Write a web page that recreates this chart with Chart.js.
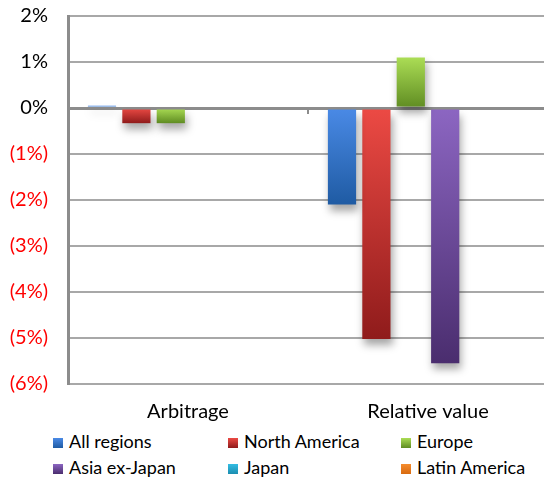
<!DOCTYPE html>
<html>
<head>
<meta charset="utf-8">
<script src="https://cdn.jsdelivr.net/npm/chart.js@4/dist/chart.umd.min.js"></script>
<style>
  html, body { margin: 0; padding: 0; background: #fff; overflow: hidden; }
  #wrap { position: relative; width: 548px; height: 480px; }
  #wrap canvas { position: absolute; left: 0; top: 0; }
  .legend-item { position: absolute; font-family: Lato, "Open Sans", sans-serif; font-size: 18px; color: #000; line-height: 20px; white-space: nowrap; }
  .legend-item span { display: inline-block; width: 10px; height: 10px; margin-right: 6px; vertical-align: 0px; }
</style>
</head>
<body>
<div id="wrap">
  <canvas id="grafico" width="548" height="430"></canvas>
  <div id="legenda"></div>
</div>
<script>
// Categorias e séries (valores em %)
const categorias = ['Arbitrage', 'Relative value'];
const nomesSeries = ['All regions', 'North America', 'Europe', 'Asia ex-Japan', 'Japan', 'Latin America'];
const allRegions = [0.05, -2.1];
const northAmerica = [-0.33, -5.02];
const europe = [-0.33, 1.1];
const asiaExJapan = [0, -5.55];
const japan = [0, 0];
const latinAmerica = [0, 0];
const ticksY = [-6, -5, -4, -3, -2, -1, 0, 1, 2];

// Cores: tom claro (topo) e escuro (base) de cada série
const coresClaras = ['#4a8ae6', '#ec4a44', '#abdd55', '#8c66c2', '#33bde3', '#f58c2e'];
const coresEscuras = ['#1f5ba3', '#8f1b1b', '#5f8c22', '#4a2d6e', '#1b8db0', '#d86a10'];

const valores = [allRegions, northAmerica, europe, asiaExJapan, japan, latinAmerica];

// Gradiente vertical de cada barra, do topo até a base
function gradienteBarra(i) {
    return function(context) {
        const chart = context.chart;
        if (!chart.chartArea || context.raw === undefined) return coresClaras[i];
        const y = chart.scales.y;
        const p0 = y.getPixelForValue(0);
        const p1 = y.getPixelForValue(context.raw);
        const topo = Math.min(p0, p1), base = Math.max(p0, p1);
        if (base - topo < 1) return coresClaras[i];
        const g = chart.ctx.createLinearGradient(0, topo, 0, base);
        g.addColorStop(0, coresClaras[i]);
        g.addColorStop(1, coresEscuras[i]);
        return g;
    };
}

// Sombra das barras
const sombraPlugin = {
    id: 'sombra',
    beforeDatasetsDraw(chart) {
        const ctx = chart.ctx;
        ctx.save();
        ctx.shadowColor = 'rgba(0, 0, 0, 0.35)';
        ctx.shadowBlur = 8;
        ctx.shadowOffsetX = 2;
        ctx.shadowOffsetY = 6;
    },
    afterDatasetsDraw(chart) {
        chart.ctx.restore();
    }
};

// Marca de divisão entre categorias sobre a linha do zero
const marcaPlugin = {
    id: 'marca',
    afterDraw(chart) {
        const ctx = chart.ctx;
        const x = chart.scales.x;
        const y0 = chart.scales.y.getPixelForValue(0);
        ctx.save();
        ctx.strokeStyle = '#8c8c8c';
        ctx.lineWidth = 2;
        for (let i = 1; i < categorias.length; i++) {
            const px = (x.getPixelForValue(i - 1) + x.getPixelForValue(i)) / 2;
            ctx.beginPath();
            ctx.moveTo(px, y0);
            ctx.lineTo(px, y0 + 6);
            ctx.stroke();
        }
        ctx.restore();
    }
};

const datasets = nomesSeries.map((nome, i) => ({
    label: nome,
    data: valores[i],
    backgroundColor: gradienteBarra(i),
    borderWidth: 0,
    categoryPercentage: 0.86,
    barPercentage: 0.82
}));

const ctx = document.getElementById('grafico').getContext('2d');
const grafico = new Chart(ctx, {
    type: 'bar',
    data: { labels: categorias, datasets: datasets },
    plugins: [sombraPlugin, marcaPlugin],
    options: {
        responsive: false,
        animation: false,
        layout: { padding: { top: 16, right: 0, left: 0, bottom: 0 } },
        plugins: {
            legend: { display: false },
            tooltip: { enabled: false }
        },
        scales: {
            x: {
                grid: { display: false, drawTicks: false },
                border: { display: false },
                ticks: {
                    color: '#000',
                    padding: 16,
                    font: { family: 'Lato, "Open Sans", sans-serif', size: 20 }
                },
                afterFit(scale) { scale.height = 46; }
            },
            y: {
                min: -6,
                max: 2,
                afterBuildTicks(scale) { scale.ticks = ticksY.map(v => ({ value: v })); },
                grid: {
                    drawTicks: false,
                    color: c => (c.tick && c.tick.value === 0) ? '#8c8c8c' : '#a8a8a8',
                    lineWidth: c => (c.tick && c.tick.value === 0) ? 3 : 2
                },
                border: { display: true, color: '#8c8c8c', width: 3 },
                ticks: {
                    padding: 20,
                    color: c => c.tick.value < 0 ? '#ff0000' : '#000000',
                    font: { family: 'Lato, "Open Sans", sans-serif', size: 20 },
                    callback: v => v < 0 ? '(' + (-v) + '%)' : v + '%'
                },
                afterFit(scale) {
                    scale.width = 68;
                    scale.paddingTop = 0;
                    scale.paddingBottom = 0;
                }
            }
        }
    }
});

// Legenda em grade de 3 colunas
const legenda = document.getElementById('legenda');
const colunasX = [53, 228, 401];
const linhasY = [431, 457];
nomesSeries.forEach((nome, i) => {
    const item = document.createElement('div');
    item.className = 'legend-item';
    item.style.left = colunasX[i % 3] + 'px';
    item.style.top = linhasY[Math.floor(i / 3)] + 'px';
    const caixa = document.createElement('span');
    caixa.style.background = 'linear-gradient(' + coresClaras[i] + ', ' + coresEscuras[i] + ')';
    item.appendChild(caixa);
    item.appendChild(document.createTextNode(nome));
    legenda.appendChild(item);
});
</script>
</body>
</html>
